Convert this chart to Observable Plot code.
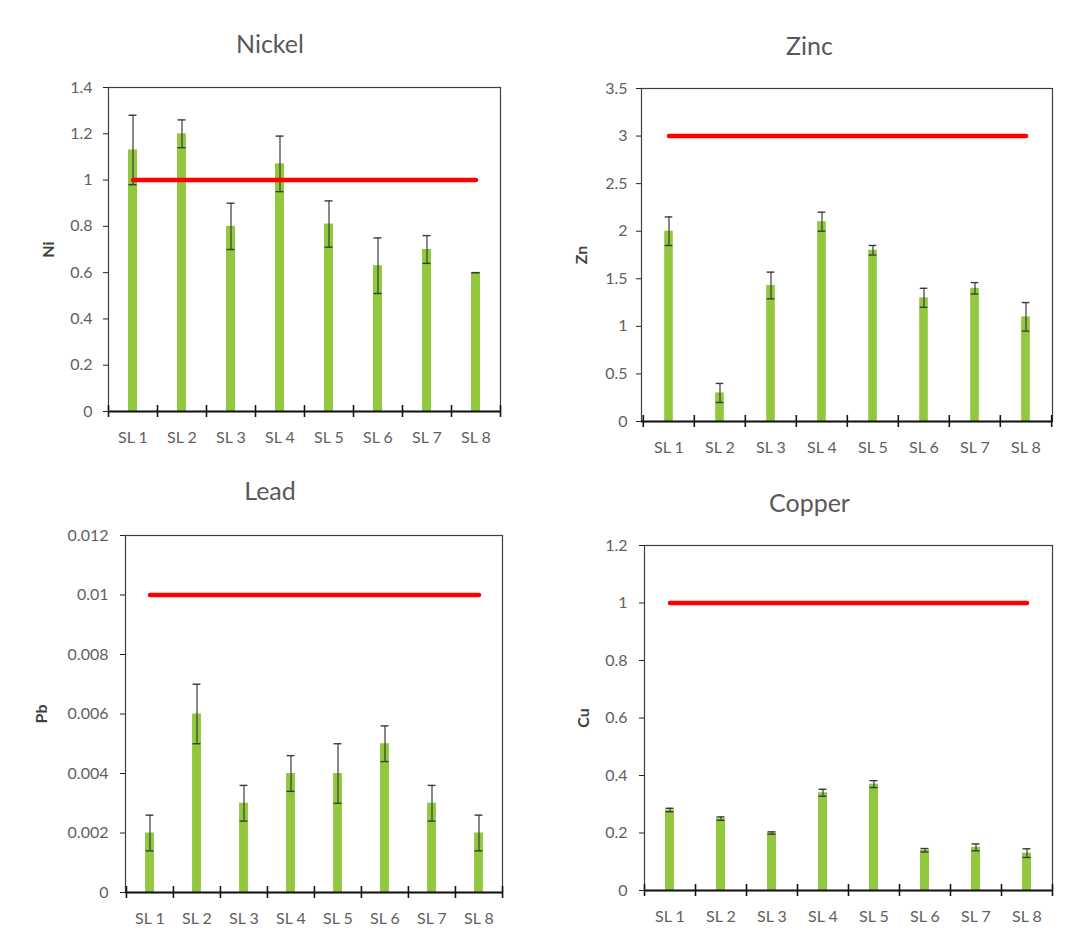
<!DOCTYPE html>
<html>
<head>
<meta charset="utf-8">
<script src="https://cdn.jsdelivr.net/npm/d3@7"></script>
<script src="https://cdn.jsdelivr.net/npm/@observablehq/plot@0.6"></script>
<style>
  html, body { margin: 0; padding: 0; background: #ffffff; }
  body { width: 1079px; height: 935px; position: relative; overflow: hidden; font-family: Lato, "Open Sans", sans-serif; }
  .panel { position: absolute; }
  .panel svg { position: absolute; left: 0; top: 0; }
  .title { position: absolute; left: 0; width: 100%; text-align: center; font-size: 25px; line-height: 30px; color: #595959; }
</style>
</head>
<body>
<script>
// ---- data ----
const categories = ["SL 1", "SL 2", "SL 3", "SL 4", "SL 5", "SL 6", "SL 7", "SL 8"];

const niMean = [1.13, 1.20, 0.80, 1.07, 0.81, 0.63, 0.70, 0.60];
const niErr  = [0.15, 0.06, 0.10, 0.12, 0.10, 0.12, 0.06, 0.00];
const niLimit = 1;
const niTicks = [0, 0.2, 0.4, 0.6, 0.8, 1, 1.2, 1.4];

const znMean = [2.00, 0.30, 1.43, 2.10, 1.80, 1.30, 1.40, 1.10];
const znErr  = [0.15, 0.10, 0.14, 0.10, 0.05, 0.10, 0.06, 0.15];
const znLimit = 3;
const znTicks = [0, 0.5, 1, 1.5, 2, 2.5, 3, 3.5];

const pbMean = [0.002, 0.006, 0.003, 0.004, 0.004, 0.005, 0.003, 0.002];
const pbErr  = [0.0006, 0.001, 0.0006, 0.0006, 0.001, 0.0006, 0.0006, 0.0006];
const pbLimit = 0.01;
const pbTicks = [0, 0.002, 0.004, 0.006, 0.008, 0.01, 0.012];

const cuMean = [0.28, 0.25, 0.20, 0.34, 0.37, 0.14, 0.15, 0.13];
const cuErr  = [0.006, 0.006, 0.004, 0.012, 0.012, 0.006, 0.012, 0.015];
const cuLimit = 1;
const cuTicks = [0, 0.2, 0.4, 0.6, 0.8, 1, 1.2];

// ---- drawing ----
function panel(cfg) {
  const {title, label, mean, err, limit, ticks, left, top, width, height,
         mL, mR, mT, mB, titleY, labelOffset, tickPad} = cfg;
  const div = document.createElement("div");
  div.className = "panel";
  Object.assign(div.style, {left: left + "px", top: top + "px", width: width + "px", height: height + "px"});
  document.body.appendChild(div);

  const rows = categories.map((c, i) => ({c, v: mean[i], lo: mean[i] - err[i], hi: mean[i] + err[i]}));
  const limitRows = categories.map(c => ({c, v: limit}));
  const step = (width - mL - mR) / categories.length;
  const barInset = (step - 9) / 2;
  const capInset = (step - 8) / 2;
  const errColor = "#3a3a3a";
  const axisColor = "#141414";

  const chart = Plot.plot({
    width, height,
    marginLeft: mL, marginRight: mR, marginTop: mT, marginBottom: mB,
    style: {fontFamily: "Lato, 'Open Sans', sans-serif", fontSize: "16px", color: "#5f5f5f", background: "transparent", overflow: "visible"},
    x: {domain: categories, padding: 0, label: null, tickSize: 0, tickPadding: 20},
    y: {domain: [ticks[0], ticks[ticks.length - 1]], ticks, tickFormat: d => String(d),
        tickSize: 5, tickPadding: tickPad, label, labelAnchor: "center", labelOffset, labelArrow: "none"},
    marks: [
      Plot.barY(rows, {x: "c", y: "v", fill: "#92c83e", insetLeft: barInset, insetRight: barInset}),
      Plot.ruleX(rows, {x: "c", y1: "lo", y2: "hi", stroke: errColor, strokeWidth: 1.2}),
      Plot.tickY(rows, {x: "c", y: "hi", stroke: errColor, strokeWidth: 1.4, insetLeft: capInset, insetRight: capInset}),
      Plot.tickY(rows, {x: "c", y: "lo", stroke: errColor, strokeWidth: 1.4, insetLeft: capInset, insetRight: capInset}),
      Plot.line(limitRows, {x: "c", y: "v", stroke: "#ff0000", strokeWidth: 4.5, strokeLinecap: "round"}),
      Plot.frame({stroke: "#404040", strokeWidth: 1.2}),
      Plot.ruleY([0], {stroke: axisColor, strokeWidth: 1.8}),
      // category separator ticks crossing the x axis
      Plot.ruleX(categories, {x: d => d, y1: 0, y2: 0, dx: -step / 2, insetTop: -6, insetBottom: -6, stroke: axisColor, strokeWidth: 1.6}),
      Plot.ruleX(categories.slice(-1), {x: d => d, y1: 0, y2: 0, dx: step / 2, insetTop: -6, insetBottom: -6, stroke: axisColor, strokeWidth: 1.6})
    ]
  });
  div.appendChild(chart);

  const svg = d3.select(chart);
  svg.selectAll('g[aria-label="y-axis label"] text')
     .attr("font-weight", "bold").attr("fill", "#404040");
  svg.selectAll('g[aria-label="y-axis tick"]').attr("stroke", "#222");

  const t = document.createElement("div");
  t.className = "title";
  t.textContent = title;
  t.style.top = (titleY - 15) + "px";
  div.appendChild(t);
}

panel({title: "Nickel", label: "Ni", mean: niMean, err: niErr, limit: niLimit, ticks: niTicks,
       left: 0, top: 0, width: 540, height: 460, mL: 108, mR: 40, mT: 87, mB: 49,
       titleY: 43, labelOffset: 66, tickPad: 11});
panel({title: "Zinc", label: "Zn", mean: znMean, err: znErr, limit: znLimit, ticks: znTicks,
       left: 540, top: 0, width: 539, height: 460, mL: 101, mR: 27, mT: 88, mB: 39,
       titleY: 45, labelOffset: 66, tickPad: 9});
panel({title: "Lead", label: "Pb", mean: pbMean, err: pbErr, limit: pbLimit, ticks: pbTicks,
       left: 0, top: 460, width: 540, height: 475, mL: 125, mR: 38, mT: 75, mB: 43,
       titleY: 30, labelOffset: 90, tickPad: 12});
panel({title: "Copper", label: "Cu", mean: cuMean, err: cuErr, limit: cuLimit, ticks: cuTicks,
       left: 540, top: 460, width: 539, height: 475, mL: 104, mR: 27, mT: 85, mB: 45,
       titleY: 42, labelOffset: 67, tickPad: 12});
</script>
</body>
</html>
